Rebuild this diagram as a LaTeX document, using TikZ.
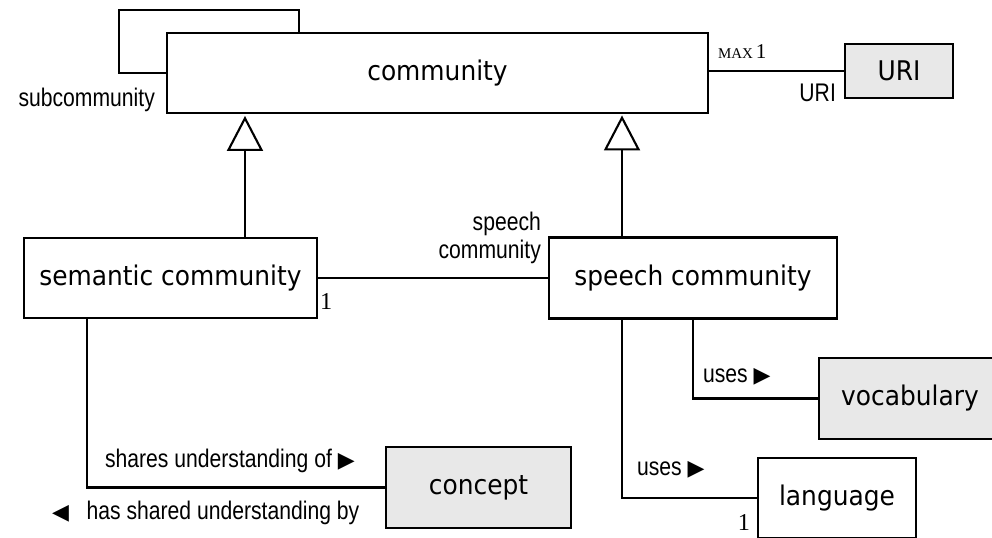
\documentclass[tikz,border=0pt]{standalone}
\usepackage{fontspec}
\setmainfont[FakeStretch=0.92]{DejaVu Sans}
\newfontfamily\lblfont[FakeStretch=0.83]{Liberation Sans}
\newfontfamily\mulfont{Liberation Serif}
\newfontfamily\symfont{DejaVu Sans}
\usetikzlibrary{arrows.meta,positioning}
\definecolor{dtgray}{HTML}{E8E8E8}
\newcommand{\trir}{{\symfont\fontsize{12.5}{12}\selectfont ▶}}
\newcommand{\tril}{{\symfont\fontsize{12.5}{12}\selectfont ◀}}

\tikzset{
  cls/.style={draw, line width=1.2pt, inner sep=0pt, font=\fontsize{15.4}{17}\selectfont},
  dtype/.style={cls, fill=dtgray},
  lbl/.style={font=\lblfont\fontsize{14.5}{15.5}\selectfont, inner sep=1pt},
  mul/.style={font=\mulfont\fontsize{13.8}{15}\selectfont, inner sep=1pt},
  assoc/.style={line width=1.2pt},
  gen/.style={line width=1.2pt, -{Triangle[open, length=0.7cm, width=0.72cm, line width=1.2pt]}}
}

\begin{document}
\begin{tikzpicture}[x=0.02cm, y=-0.02cm]
    \useasboundingbox (0,0) rectangle (992,538);
    \clip (0,0) rectangle (992,538);

    % classes
    \node[cls, minimum width=10.82cm, minimum height=1.6cm] (community) at (437.5,73) {community};
    \node[dtype, minimum width=2.16cm, minimum height=1.08cm] (uri) at (899,71) {URI};
    \node[cls, minimum width=5.86cm, minimum height=1.6cm] (semantic) at (170.5,278) {semantic community};
    \node[cls, minimum width=5.76cm, minimum height=1.62cm] (speech) at (693,278) {speech community};
    \node[dtype, minimum width=3.7cm, minimum height=1.62cm] (concept) at (478.5,487.5) {concept};
    \node[dtype, minimum width=3.64cm, minimum height=1.62cm] (vocab) at (910,398.5) {vocabulary};
    \node[cls, minimum width=3.16cm, minimum height=1.6cm] (language) at (837,498) {language};

    % subcommunity loop
    \draw[assoc] (community.west) -| ++(-47,-63) -| ([xshift=2.66cm]community.north west);
    \node[lbl, anchor=east] (subl) at (157,100) {subcommunity};

    % URI
    \draw[assoc] (community.east |- uri.west) -- (uri.west);
    \node[anchor=west, inner sep=1pt] (maxl) at (716,52) {\mulfont{\fontsize{8.5}{9}\selectfont MAX}\,\fontsize{12}{14}\selectfont 1};
    \node[lbl, anchor=east] (uril) at (838,93) {URI};

    % generalisation
    \draw[gen] ([xshift=1.49cm]semantic.north) -- ++(0,-121);
    \draw[gen] ([xshift=-1.42cm]speech.north) -- ++(0,-121);

    % semantic -- speech
    \draw[assoc] (semantic.east) -- (speech.west);
    \node[mul, anchor=west] (m1) at (318,301) {1};
    \node[lbl, anchor=east, align=right] (spl) at (543,238) {speech\\community};

    % shared understanding
    \draw[assoc] ([xshift=-1.67cm]semantic.south) |- (concept.west);
    \node[lbl, anchor=west] (shl) at (103,461) {shares understanding of \trir};
    \node[lbl, anchor=west] (hsl) at (50,513) {\tril\hspace{10pt}has shared understanding by};

    % uses
    \draw[assoc] (speech.south) |- (vocab.west);
    \node[lbl, anchor=west] (usv) at (701,377) {uses \trir};
    \draw[assoc] ([xshift=-1.42cm]speech.south) |- (language.west);
    \node[lbl, anchor=west] (usl) at (635,470) {uses \trir};
    \node[mul, anchor=east] (m2) at (752,522) {1};
\end{tikzpicture}
\end{document}
